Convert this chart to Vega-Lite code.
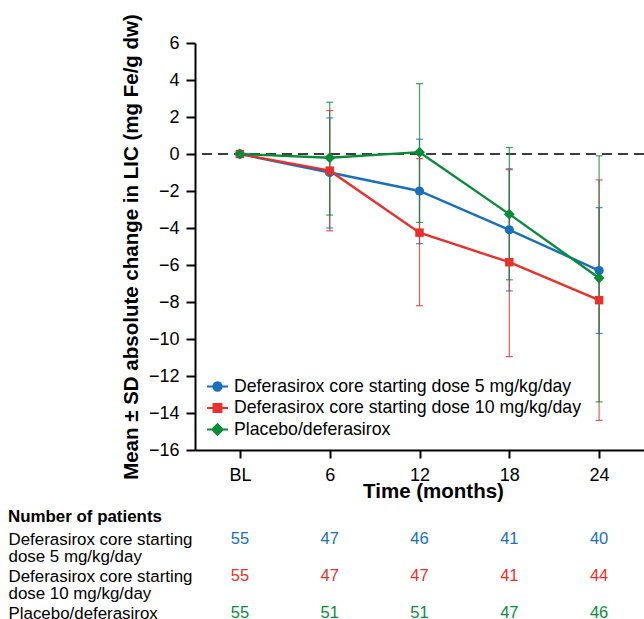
{
  "$schema": "https://vega.github.io/schema/vega-lite/v6.json",
  "autosize": {"type": "pad"},
  "padding": {"left": 8, "top": 13, "right": 0, "bottom": 0},
  "background": "white",
  "config": {
    "font": "Liberation Sans",
    "view": {"stroke": null},
    "concat": {"spacing": 81}
  },
  "bounds": "flush",
  "resolve": {"scale": {"color": "independent"}},
  "datasets": {
    "stats": [
      {"group": "Deferasirox core starting dose 5 mg/kg/day", "time": 0, "mean": 0, "lo": -0.15, "hi": 0.15},
      {"group": "Deferasirox core starting dose 5 mg/kg/day", "time": 6, "mean": -1.0, "lo": -4.0, "hi": 1.95},
      {"group": "Deferasirox core starting dose 5 mg/kg/day", "time": 12, "mean": -2.0, "lo": -4.85, "hi": 0.8},
      {"group": "Deferasirox core starting dose 5 mg/kg/day", "time": 18, "mean": -4.1, "lo": -7.4, "hi": -0.8},
      {"group": "Deferasirox core starting dose 5 mg/kg/day", "time": 24, "mean": -6.3, "lo": -9.7, "hi": -2.9},
      {"group": "Deferasirox core starting dose 10 mg/kg/day", "time": 0, "mean": 0, "lo": -0.15, "hi": 0.15},
      {"group": "Deferasirox core starting dose 10 mg/kg/day", "time": 6, "mean": -0.9, "lo": -4.15, "hi": 2.35},
      {"group": "Deferasirox core starting dose 10 mg/kg/day", "time": 12, "mean": -4.25, "lo": -8.2, "hi": -0.25},
      {"group": "Deferasirox core starting dose 10 mg/kg/day", "time": 18, "mean": -5.85, "lo": -10.95, "hi": -0.85},
      {"group": "Deferasirox core starting dose 10 mg/kg/day", "time": 24, "mean": -7.9, "lo": -14.4, "hi": -1.4},
      {"group": "Placebo/deferasirox", "time": 0, "mean": 0, "lo": -0.15, "hi": 0.15},
      {"group": "Placebo/deferasirox", "time": 6, "mean": -0.2, "lo": -3.3, "hi": 2.8},
      {"group": "Placebo/deferasirox", "time": 12, "mean": 0.1, "lo": -3.7, "hi": 3.8},
      {"group": "Placebo/deferasirox", "time": 18, "mean": -3.25, "lo": -6.8, "hi": 0.35},
      {"group": "Placebo/deferasirox", "time": 24, "mean": -6.7, "lo": -13.4, "hi": -0.1}
    ],
    "counts": [
      {"group": "Deferasirox core starting dose 5 mg/kg/day", "time": 0, "n": 55},
      {"group": "Deferasirox core starting dose 5 mg/kg/day", "time": 6, "n": 47},
      {"group": "Deferasirox core starting dose 5 mg/kg/day", "time": 12, "n": 46},
      {"group": "Deferasirox core starting dose 5 mg/kg/day", "time": 18, "n": 41},
      {"group": "Deferasirox core starting dose 5 mg/kg/day", "time": 24, "n": 40},
      {"group": "Deferasirox core starting dose 10 mg/kg/day", "time": 0, "n": 55},
      {"group": "Deferasirox core starting dose 10 mg/kg/day", "time": 6, "n": 47},
      {"group": "Deferasirox core starting dose 10 mg/kg/day", "time": 12, "n": 47},
      {"group": "Deferasirox core starting dose 10 mg/kg/day", "time": 18, "n": 41},
      {"group": "Deferasirox core starting dose 10 mg/kg/day", "time": 24, "n": 44},
      {"group": "Placebo/deferasirox", "time": 0, "n": 55},
      {"group": "Placebo/deferasirox", "time": 6, "n": 51},
      {"group": "Placebo/deferasirox", "time": 12, "n": 51},
      {"group": "Placebo/deferasirox", "time": 18, "n": 47},
      {"group": "Placebo/deferasirox", "time": 24, "n": 46}
    ],
    "zero": [{"y": 0}]
  },
  "vconcat": [
    {
      "width": 449,
      "height": 407,
      "data": {"name": "stats"},
      "encoding": {
        "x": {
          "field": "time", "type": "quantitative",
          "scale": {"domain": [-3, 27], "nice": false, "zero": false},
          "axis": {
            "values": [0, 6, 12, 18, 24],
            "tickCount": 20,
            "labelExpr": "datum.value == 0 ? 'BL' : datum.label",
            "title": "Time (months)",
            "titleX": 238,
            "titleFontSize": 20.5,
            "titleFontWeight": "bold",
            "titleColor": "black",
            "titlePadding": -3,
            "labelFontSize": 18,
            "labelColor": "black",
            "labelPadding": 8,
            "tickSize": 8,
            "tickWidth": 2,
            "tickColor": "black",
            "domainColor": "black",
            "domainWidth": 2,
            "grid": false
          }
        },
        "color": {
          "field": "group", "type": "nominal",
          "scale": {
            "domain": ["Deferasirox core starting dose 5 mg/kg/day", "Deferasirox core starting dose 10 mg/kg/day", "Placebo/deferasirox"],
            "range": ["#1a6fba", "#e8312a", "#0a8b3a"]
          },
          "legend": {
            "title": null,
            "orient": "bottom-left",
            "offset": 11,
            "padding": 0,
            "labelFontSize": 17.7,
            "labelColor": "black",
            "labelLimit": 500,
            "labelOffset": 5,
            "rowPadding": 0.5,
            "symbolSize": 441,
            "symbolStrokeWidth": 2,
            "symbolOpacity": 1,
            "encode": {
              "symbols": {
                "update": {
                  "shape": {"signal": "datum.value == 'Placebo/deferasirox' ? 'M-1,0H1M0,-0.5L0.5,0L0,0.5L-0.5,0Z' : (indexof(datum.value, '10 mg') >= 0 ? 'M-1,0H1M-0.38,-0.38H0.38V0.38H-0.38Z' : 'M-1,0H1M0.4,0A0.4,0.4,0,1,1,-0.4,0A0.4,0.4,0,1,1,0.4,0Z')"},
                  "fill": {"signal": "scale('color', datum.value)"},
                  "stroke": {"signal": "scale('color', datum.value)"},
                  "strokeWidth": {"value": 2}
                },
                "shape": {"signal": "datum.value == 'Placebo/deferasirox' ? 'M-1,0H1M0,-0.5L0.5,0L0,0.5L-0.5,0Z' : (indexof(datum.value, '10 mg') >= 0 ? 'M-1,0H1M-0.38,-0.38H0.38V0.38H-0.38Z' : 'M-1,0H1M0.4,0A0.4,0.4,0,1,1,-0.4,0A0.4,0.4,0,1,1,0.4,0Z')"},
                "fill": {"signal": "scale('color', datum.value)"},
                "stroke": {"signal": "scale('color', datum.value)"},
                "strokeWidth": {"value": 2}
              }
            }
          }
        }
      },
      "layer": [
        {
          "data": {"name": "zero"},
          "mark": {"type": "rule", "color": "black", "strokeWidth": 1.6, "strokeDash": [10, 6]},
          "encoding": {
            "x": null,
            "color": null,
            "y": {
              "field": "y", "type": "quantitative",
              "scale": {"domain": [-16, 6], "nice": false, "zero": false},
              "axis": {
                "values": [-16, -14, -12, -10, -8, -6, -4, -2, 0, 2, 4, 6],
                "tickCount": 30,
                "labelOverlap": false,
                "title": "Mean ± SD absolute change in LIC (mg Fe/g dw)",
                "titleFontSize": 20.5,
                "titleFontWeight": "bold",
                "titleColor": "black",
                "titlePadding": 7,
                "labelFontSize": 18,
                "labelColor": "black",
                "labelPadding": 7,
                "tickSize": 9,
                "tickWidth": 2,
                "tickColor": "black",
                "domainColor": "black",
                "domainWidth": 2,
                "grid": false
              }
            }
          }
        },
        {
          "mark": {"type": "rule", "strokeWidth": 1.2, "opacity": 0.8},
          "encoding": {
            "y": {"field": "lo", "type": "quantitative"},
            "y2": {"field": "hi"}
          }
        },
        {
          "mark": {"type": "tick", "orient": "horizontal", "size": 7, "thickness": 1.2, "opacity": 0.8},
          "encoding": {"y": {"field": "lo", "type": "quantitative"}}
        },
        {
          "mark": {"type": "tick", "orient": "horizontal", "size": 7, "thickness": 1.2, "opacity": 0.8},
          "encoding": {"y": {"field": "hi", "type": "quantitative"}}
        },
        {
          "mark": {"type": "line", "strokeWidth": 2.4},
          "encoding": {"y": {"field": "mean", "type": "quantitative"}}
        },
        {
          "transform": [{"filter": "datum.group == 'Deferasirox core starting dose 5 mg/kg/day'"}],
          "mark": {"type": "point", "filled": true, "opacity": 1, "shape": "circle", "size": 85},
          "encoding": {"y": {"field": "mean", "type": "quantitative"}}
        },
        {
          "transform": [{"filter": "datum.group == 'Deferasirox core starting dose 10 mg/kg/day'"}],
          "mark": {"type": "point", "filled": true, "opacity": 1, "shape": "square", "size": 72},
          "encoding": {"y": {"field": "mean", "type": "quantitative"}}
        },
        {
          "transform": [{"filter": "datum.group == 'Placebo/deferasirox'"}],
          "mark": {"type": "point", "filled": true, "opacity": 1, "shape": "diamond", "size": 120},
          "encoding": {"y": {"field": "mean", "type": "quantitative"}}
        }
      ]
    },
    {
      "width": 449,
      "height": 74,
      "data": {"name": "counts"},
      "title": {
        "text": "Number of patients",
        "anchor": "start",
        "frame": "group",
        "dx": -187,
        "offset": 4,
        "fontSize": 16.9,
        "fontWeight": "bold",
        "color": "black"
      },
      "mark": {"type": "text", "baseline": "top", "align": "center", "fontSize": 16.5},
      "encoding": {
        "x": {
          "field": "time", "type": "quantitative",
          "scale": {"domain": [-3, 27], "nice": false, "zero": false},
          "axis": null
        },
        "y": {
          "field": "group", "type": "nominal",
          "scale": {
            "type": "point",
            "padding": 0,
            "domain": ["Deferasirox core starting dose 5 mg/kg/day", "Deferasirox core starting dose 10 mg/kg/day", "Placebo/deferasirox"]
          },
          "axis": {
            "title": null,
            "domain": false,
            "ticks": false,
            "tickSize": 0,
            "labelAlign": "left",
            "labelBaseline": "top",
            "labelPadding": 187,
            "labelLimit": 400,
            "labelFontSize": 16.9,
            "labelColor": "black",
            "labelLineHeight": 17,
            "labelExpr": "datum.value == 'Placebo/deferasirox' ? datum.value : (indexof(datum.value, '10 mg') >= 0 ? ['Deferasirox core starting', 'dose 10 mg/kg/day'] : ['Deferasirox core starting', 'dose 5 mg/kg/day'])"
          }
        },
        "text": {"field": "n", "type": "quantitative"},
        "color": {
          "field": "group", "type": "nominal",
          "scale": {
            "domain": ["Deferasirox core starting dose 5 mg/kg/day", "Deferasirox core starting dose 10 mg/kg/day", "Placebo/deferasirox"],
            "range": ["#1a6fba", "#e8312a", "#0a8b3a"]
          },
          "legend": null
        }
      }
    }
  ]
}
